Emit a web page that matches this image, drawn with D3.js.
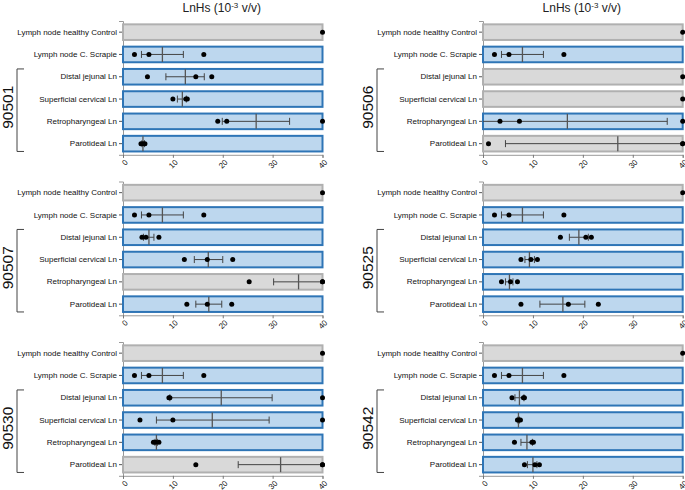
<!DOCTYPE html>
<html>
<head>
<meta charset="utf-8">
<script src="https://cdn.jsdelivr.net/npm/d3@7"></script>
<style>
  body { margin: 0; background: #fff; }
  text { font-family: "Liberation Sans", Arial, sans-serif; }
</style>
</head>
<body>
<svg id="chart"></svg>
<script>
// Chart size
const width = 685;
const height = 490;

// Row labels (same for every animal)
const rowNames = ["Lymph node healthy Control", "Lymph node C. Scrapie", "Distal jejunal Ln",
    "Superficial cervical Ln", "Retropharyngeal Ln", "Parotideal Ln"];
const animals = ["90501", "90506", "90507", "90525", "90530", "90542"];
const xTicks = [0, 10, 20, 30, 40];

// Reference rows shared by all panels
const controlPoints = [40];
const controlMean = 40;
const scrapiePoints = [2.3, 5.2, 16.2];
const scrapieMean = 7.9;
const scrapieErr = [3.7, 12.1];

// Lymph nodes per animal: distal, superficial, retro, parotideal
const nodePoints = [
    [[4.9, 14.6, 17.8], [10.0, 12.6, 12.9], [19.0, 20.8, 40], [3.6, 4.0, 4.4]],
    [[40], [40], [3.4, 7.3, 40], [1.1, 40, 40]],
    [[3.8, 4.6, 7.2], [12.3, 16.9, 22.0], [25.3, 40, 40], [12.8, 16.9, 21.8]],
    [[15.5, 20.6, 21.7], [7.6, 9.6, 10.9], [3.7, 5.5, 6.9], [7.6, 17.1, 23.1]],
    [[9.2, 9.4, 40], [3.4, 10.0, 40], [6.1, 6.5, 7.2], [14.6, 40, 40]],
    [[5.8, 8.1, 8.3], [6.9, 7.2, 7.5], [6.3, 9.8, 10.1], [8.3, 10.4, 11.3]]
];
const nodeMeans = [
    [12.5, 11.9, 26.7, 4.0],
    [40, 40, 16.9, 27.0],
    [5.2, 17.1, 35.2, 17.2],
    [19.2, 9.3, 5.3, 16.0],
    [19.7, 17.9, 6.7, 31.6],
    [7.3, 7.1, 8.8, 10.0]
];
const nodeErrLow = [
    [8.6, 10.9, 19.9, 3.8],
    [40, 40, -3.1, 4.5],
    [4.1, 14.3, 30.2, 14.6],
    [17.3, 8.4, 4.5, 11.4],
    [9.4, 6.7, 6.4, 23.1],
    [6.4, 7.0, 7.6, 8.9]
];
const nodeErrHigh = [
    [16.3, 12.7, 33.4, 4.3],
    [40, 40, 36.9, 49.5],
    [6.2, 20.0, 40.2, 19.8],
    [21.1, 10.3, 6.0, 20.4],
    [29.9, 29.3, 6.9, 40.1],
    [8.2, 7.3, 9.9, 10.8]
];
// 1 = grey (negative) bar, 0 = blue bar
const nodeGrey = [
    [0, 0, 0, 0],
    [1, 1, 0, 1],
    [0, 0, 1, 0],
    [0, 0, 0, 0],
    [0, 0, 0, 1],
    [0, 0, 0, 0]
];

// Panel layout
const colX = [[123, 322.5], [483, 682.7]];
const rowTop = [21, 181.5, 342];
const plotH = 133.8;

const blueFill = "#bdd7ee", blueStroke = "#2e75b6";
const greyFill = "#d9d9d9", greyStroke = "#b0b0b0";

const svg = d3.select("#chart")
    .attr("width", width)
    .attr("height", height);

animals.forEach((animal, i) => {
    const col = i % 2;
    const top = rowTop[Math.floor(i / 2)];

    const x = d3.scaleLinear().domain([0, 40]).range(colX[col]);
    const y = d3.scaleBand().domain(rowNames)
        .range([top, top + plotH])
        .paddingInner(0.3)
        .paddingOuter(0.15);

    // build row records for this animal
    const rows = rowNames.map((name, k) => {
        if (k === 0) return { name, pts: controlPoints, mean: controlMean, lo: 40, hi: 40, grey: 1 };
        if (k === 1) return { name, pts: scrapiePoints, mean: scrapieMean, lo: scrapieErr[0], hi: scrapieErr[1], grey: 0 };
        return {
            name,
            pts: nodePoints[i][k - 2],
            mean: nodeMeans[i][k - 2],
            lo: nodeErrLow[i][k - 2],
            hi: nodeErrHigh[i][k - 2],
            grey: nodeGrey[i][k - 2]
        };
    });

    const g = svg.append("g");

    // title on top panels
    if (i < 2) {
        const t = g.append("text")
            .attr("x", (colX[col][0] + colX[col][1]) / 2 - 1)
            .attr("y", 11.5)
            .attr("text-anchor", "middle")
            .attr("font-size", 12)
            .attr("fill", "#222");
        t.append("tspan").text("LnHs (10");
        t.append("tspan").attr("font-size", 8).attr("dy", -4).text("-3");
        t.append("tspan").attr("dy", 4).text(" v/v)");
    }

    // y axis
    const yAxis = g.append("g")
        .attr("transform", `translate(${colX[col][0]},0)`)
        .call(d3.axisLeft(y).tickSize(4).tickPadding(2));
    yAxis.select(".domain").attr("stroke", "#999");
    yAxis.selectAll(".tick line").attr("stroke", "#555");
    yAxis.selectAll("text").attr("font-size", 8).attr("fill", "#111")
        .style("font-family", "'Liberation Sans', Arial, sans-serif");

    // x axis
    const xAxis = g.append("g")
        .attr("transform", `translate(0,${top + plotH})`)
        .call(d3.axisBottom(x).tickValues(xTicks).tickSize(3));
    xAxis.select(".domain").attr("stroke", "#999");
    xAxis.selectAll(".tick line").attr("stroke", "#777");
    xAxis.selectAll("text")
        .attr("font-size", 8).attr("fill", "#111")
        .style("font-family", "'Liberation Sans', Arial, sans-serif")
        .attr("x", 0).attr("y", 0).attr("dy", "0.35em")
        .attr("text-anchor", "end")
        .attr("transform", "translate(3,6) rotate(-45)");

    // bars
    g.selectAll("rect.bar")
        .data(rows)
        .join("rect")
        .attr("class", "bar")
        .attr("x", x(0))
        .attr("y", d => y(d.name))
        .attr("width", x(40) - x(0))
        .attr("height", y.bandwidth())
        .attr("fill", d => d.grey ? greyFill : blueFill)
        .attr("stroke", d => d.grey ? greyStroke : blueStroke)
        .attr("stroke-width", 2);

    // error bars, mean lines and points
    rows.forEach(d => {
        const cy = y(d.name) + y.bandwidth() / 2;
        if (d.hi > d.lo) {
            const lo = Math.max(0, d.lo), hi = Math.min(40, d.hi);
            g.append("line")
                .attr("x1", x(lo)).attr("x2", x(hi))
                .attr("y1", cy).attr("y2", cy)
                .attr("stroke", "#444").attr("stroke-width", 1);
            [d.lo, d.hi].filter(v => v > 0 && v < 40).forEach(v => {
                g.append("line")
                    .attr("x1", x(v)).attr("x2", x(v))
                    .attr("y1", cy - 3.5).attr("y2", cy + 3.5)
                    .attr("stroke", "#444").attr("stroke-width", 1);
            });
        }
        if (d.mean < 40) {
            g.append("line")
                .attr("x1", x(d.mean)).attr("x2", x(d.mean))
                .attr("y1", cy - 7.5).attr("y2", cy + 7.5)
                .attr("stroke", "#555").attr("stroke-width", 1.3);
        }
        g.selectAll(null)
            .data(d.pts)
            .join("circle")
            .attr("cx", v => x(v))
            .attr("cy", cy)
            .attr("r", 2.5)
            .attr("fill", "#000");
    });

    // group bracket round the four lymph nodes
    const bx = col === 0 ? 17 : 377;
    const b0 = y(rowNames[2]);
    const b1 = y(rowNames[5]) + y.bandwidth();
    g.append("path")
        .attr("d", `M${bx + 7},${b0}H${bx}V${b1}H${bx + 7}`)
        .attr("fill", "none")
        .attr("stroke", "#444")
        .attr("stroke-width", 1);
    g.append("text")
        .attr("transform", `translate(${bx - 4},${(b0 + b1) / 2 - 3}) rotate(-90)`)
        .attr("text-anchor", "middle")
        .attr("font-size", 15.5)
        .attr("fill", "#111")
        .text(animal);
});
</script>
</body>
</html>
